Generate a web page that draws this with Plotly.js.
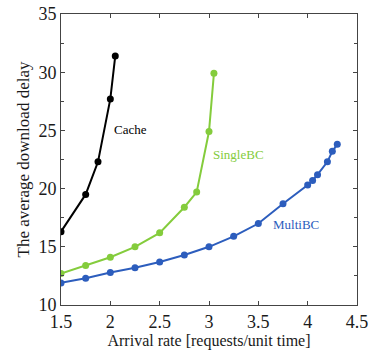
<!DOCTYPE html>
<html><head><meta charset="utf-8">
<script src="https://cdn.plot.ly/plotly-3.0.1.min.js"></script>
<style>html,body{margin:0;padding:0;background:#fff}#c{width:370px;height:351px}</style>
</head><body><div id="c"></div>
<script>
const cacheX = [1.5, 1.75, 1.875, 2.0, 2.05];
const cacheY = [16.3, 19.5, 22.3, 27.7, 31.4];
const singleX = [1.5, 1.75, 2.0, 2.25, 2.5, 2.75, 2.875, 3.0, 3.05];
const singleY = [12.7, 13.4, 14.1, 15.0, 16.2, 18.4, 19.7, 24.9, 29.9];
const multiX = [1.5, 1.75, 2.0, 2.25, 2.5, 2.75, 3.0, 3.25, 3.5, 3.75, 4.0, 4.05, 4.1, 4.2, 4.25, 4.3];
const multiY = [11.9, 12.3, 12.8, 13.2, 13.7, 14.3, 15.0, 15.9, 17.0, 18.7, 20.3, 20.7, 21.2, 22.3, 23.2, 23.8];
const labels = ["Cache", "SingleBC", "MultiBC"];
const labelX = [2.2, 3.3, 3.88];
const labelY = [25.1, 22.9, 16.9];
const colors = ["#000000", "#84cc3c", "#2c5dbd"];
const FF = "'Liberation Serif', 'Times New Roman', Times, serif";

function tr(x, y, c, n) {
  return {x: x, y: y, mode: "lines+markers", name: n, line: {color: c, width: 2},
    marker: {color: c, size: 7}, showlegend: false};
}
const data = [tr(cacheX, cacheY, colors[0], labels[0]), tr(singleX, singleY, colors[1], labels[1]), tr(multiX, multiY, colors[2], labels[2])];
const axisCommon = {showgrid: false, zeroline: false, showline: true, mirror: "ticks", linecolor: "#444", linewidth: 1,
  ticks: "inside", ticklen: 4, tickcolor: "#444",
  tickfont: {family: FF, size: 18, color: "#1a1a1a"}};
const layout = {
  width: 370, height: 351,
  margin: {l: 61, r: 13, t: 14, b: 46},
  paper_bgcolor: "#fff", plot_bgcolor: "#fff",
  font: {family: FF, color: "#1a1a1a"},
  xaxis: Object.assign({}, axisCommon, {range: [1.5, 4.5], dtick: 0.5, tick0: 1.5,
    title: {text: "Arrival rate [requests/unit time]", font: {family: FF, size: 16, color: "#1a1a1a"}, standoff: 3}}),
  yaxis: Object.assign({}, axisCommon, {range: [10, 35], dtick: 5, tick0: 10,
    minor: {dtick: 2.5, ticks: "inside", ticklen: 3, tickcolor: "#444"},
    title: {text: "The average download delay", font: {family: FF, size: 17, color: "#1a1a1a"}, standoff: 4}}),
  annotations: labels.map((t, i) => ({x: labelX[i], y: labelY[i], text: t, showarrow: false,
    font: {family: FF, size: 13, color: colors[i]}}))
};
Plotly.newPlot("c", data, layout, {displayModeBar: false, staticPlot: true});
</script></body></html>
